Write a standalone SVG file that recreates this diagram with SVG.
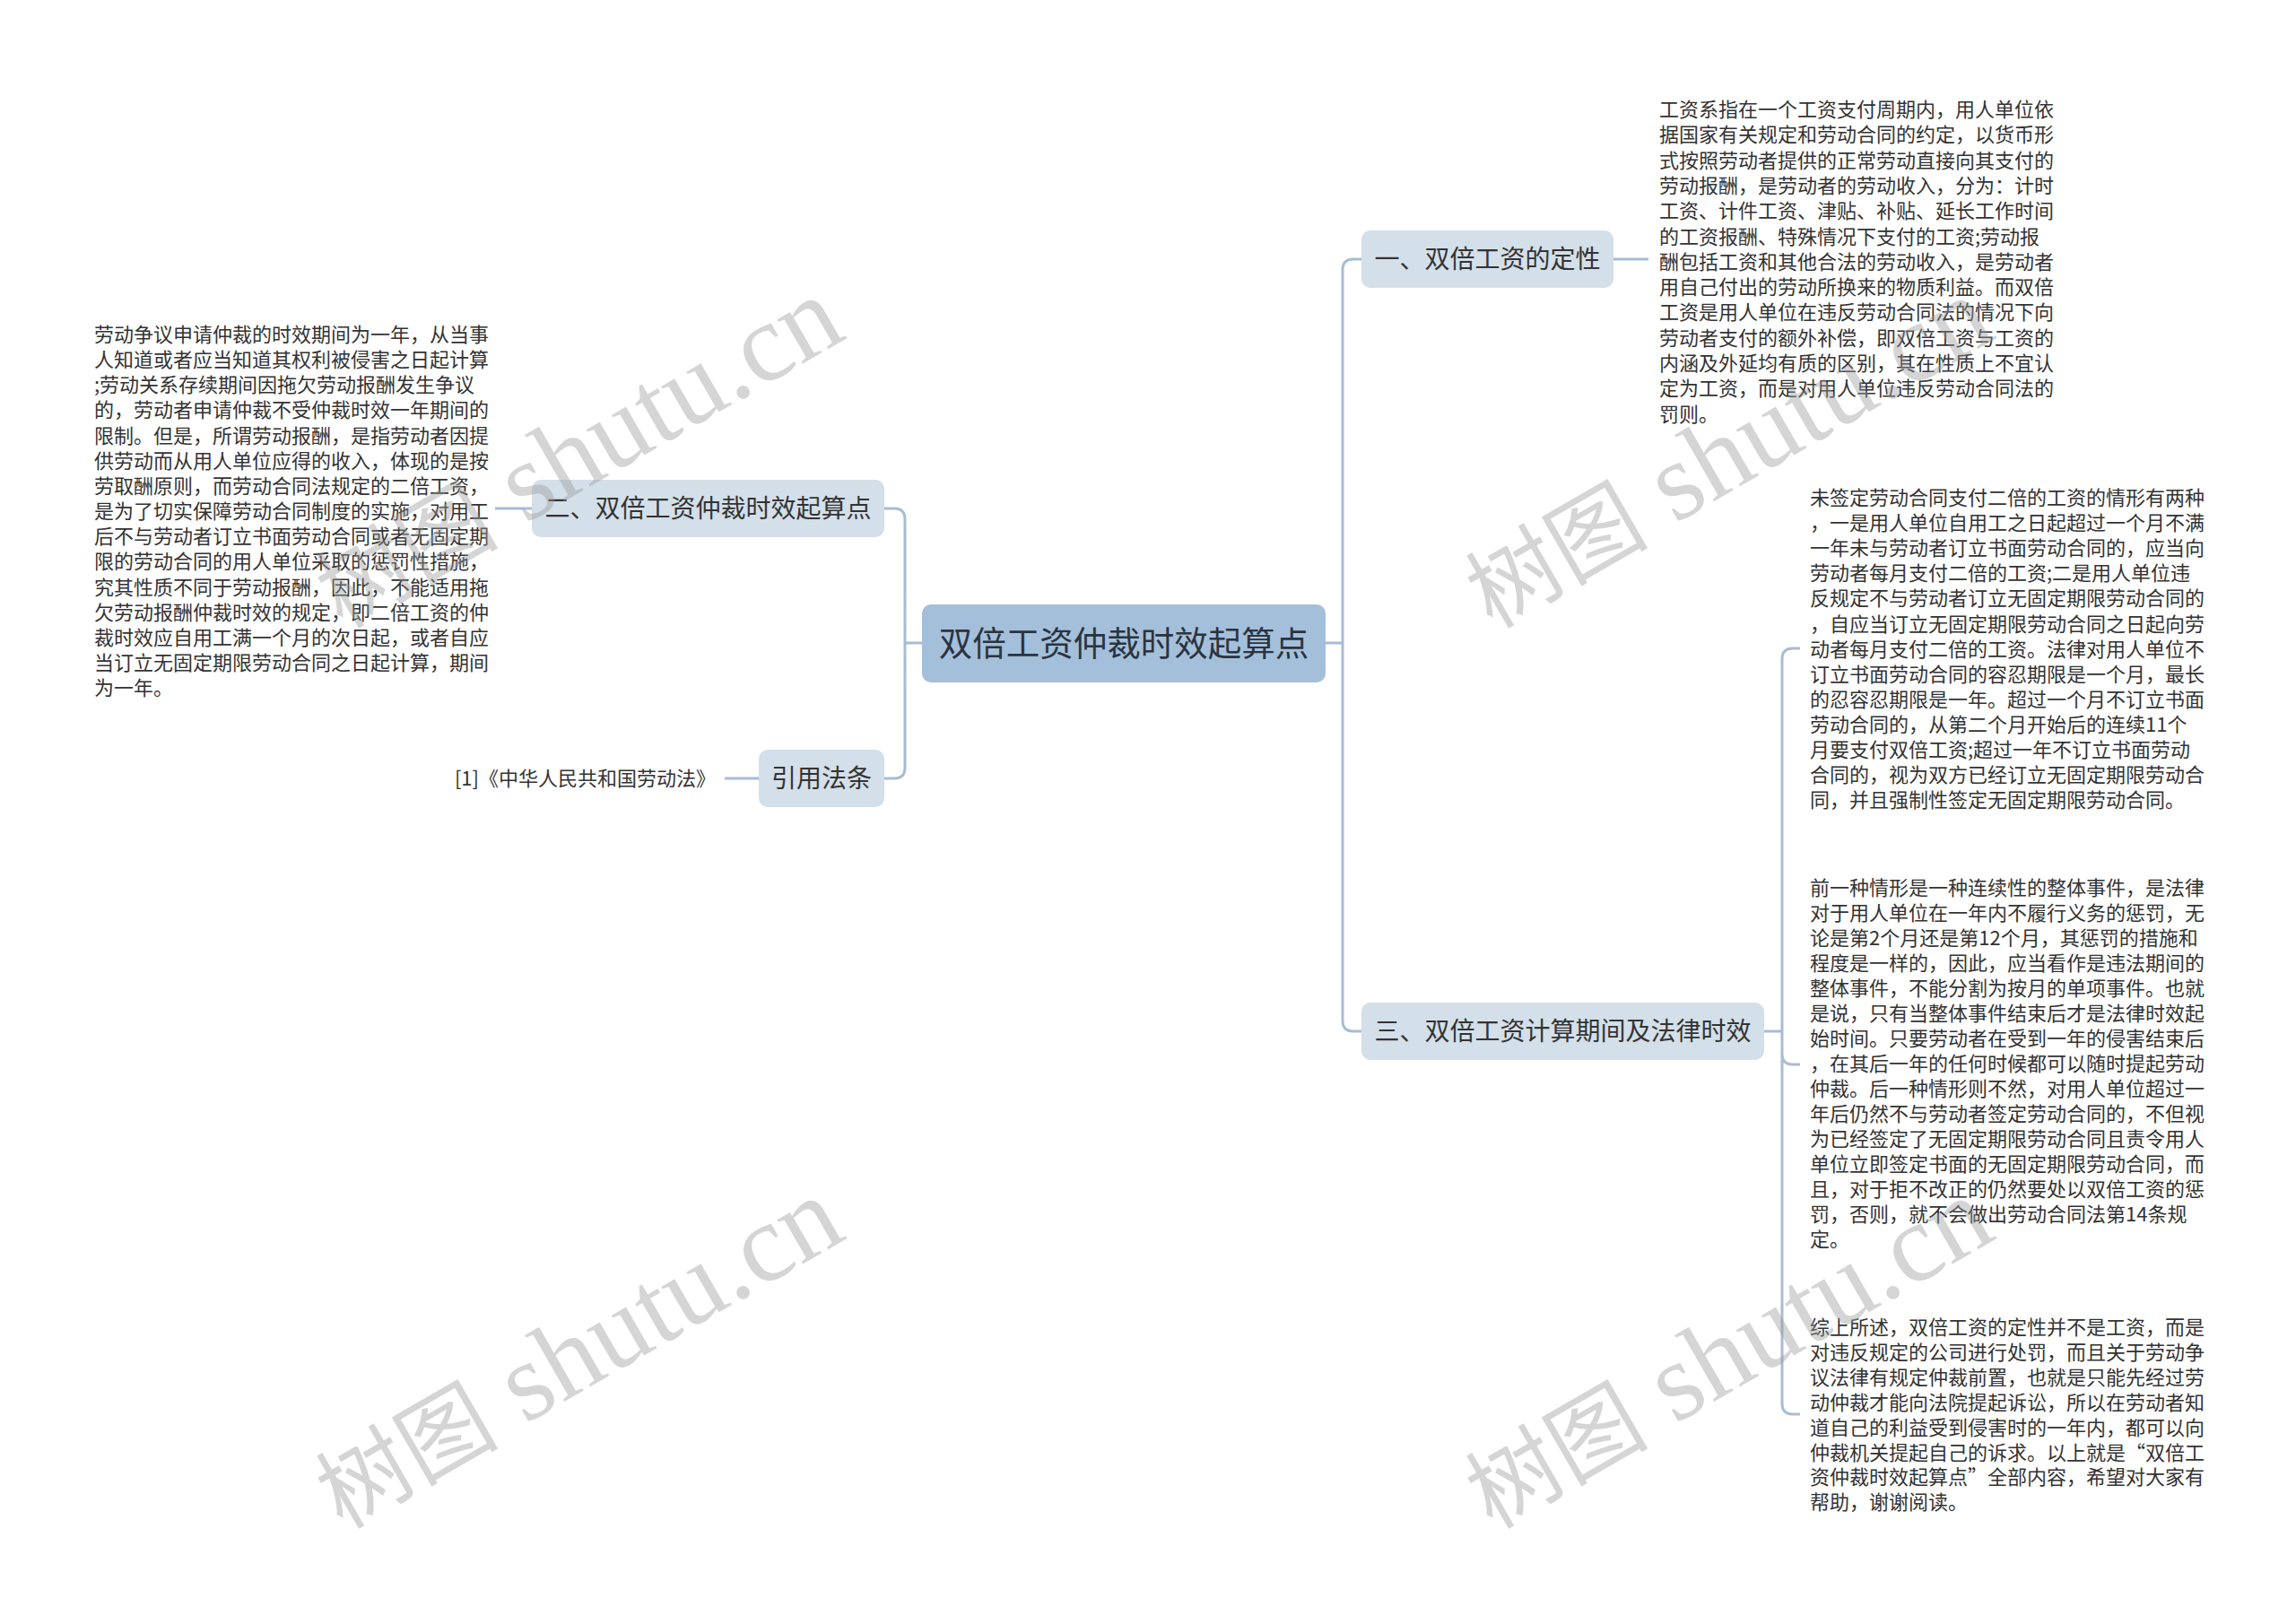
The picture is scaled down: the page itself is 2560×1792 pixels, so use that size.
<svg xmlns="http://www.w3.org/2000/svg" width="2560" height="1792" viewBox="0 0 2560 1792">
<style>
.t{font-family:"Noto Sans CJK SC","Microsoft YaHei",sans-serif;font-size:22px;fill:#333}
.n{font-family:"Noto Sans CJK SC","Microsoft YaHei",sans-serif;font-size:28px;fill:#333;text-anchor:middle}
.c{font-family:"Noto Sans CJK SC","Microsoft YaHei",sans-serif;font-size:37.5px;fill:#2a3440;text-anchor:middle}
.b1{fill:#d3dfe9}
.b0{fill:#a4bfda}
.ln{fill:none;stroke:#a7bdd3;stroke-width:3}
.wm{font-family:"Liberation Serif","Noto Sans CJK SC",serif;font-size:124px;fill:#999;opacity:0.4;text-anchor:middle}
.wc{font-size:102px}
</style>
<rect width="2560" height="1792" fill="#fff"/>
<g id="connectors">
<path class="ln" d="M1028,717 H1009 M1009,717 V579 Q1009,567 997,567 H986 M1009,717 V856 Q1009,868 997,868 H986"/>
<path class="ln" d="M1478,717 H1497 M1497,717 V301 Q1497,289 1509,289 H1518 M1497,717 V1138 Q1497,1150 1509,1150 H1518"/>
<path class="ln" d="M1799,289 H1838"/>
<path class="ln" d="M593,567 H552"/>
<path class="ln" d="M846,868 H808"/>
<path class="ln" d="M1967,1150 H1987 M1987,1150 V735 Q1987,723 1999,723 H2007 M1987,1150 V1175 Q1987,1187 1999,1187 H2007 M1987,1150 V1565 Q1987,1577 1999,1577 H2007"/>
</g>
<g id="root">
<rect class="b0" x="1028" y="674" width="450" height="87" rx="10"/>
<text class="c" x="1253" y="731">双倍工资仲裁时效起算点</text>
</g>
<g id="n1">
<rect class="b1" x="1518" y="257" width="281" height="64" rx="10"/>
<text class="n" x="1658.5" y="299">一、双倍工资的定性</text>
</g>
<g id="n2">
<rect class="b1" x="593" y="535" width="393" height="64" rx="10"/>
<text class="n" x="789.5" y="577">二、双倍工资仲裁时效起算点</text>
</g>
<g id="n3">
<rect class="b1" x="1518" y="1118" width="449" height="64" rx="10"/>
<text class="n" x="1742.5" y="1160">三、双倍工资计算期间及法律时效</text>
</g>
<g id="n4">
<rect class="b1" x="846" y="836" width="140" height="64" rx="10"/>
<text class="n" x="916" y="878">引用法条</text>
</g>
<g id="t1">
<text class="t" x="1850" y="130"><tspan x="1850">工资系指在一个工资支付周期内，用人单位依</tspan><tspan x="1850" dy="28.3">据国家有关规定和劳动合同的约定，以货币形</tspan><tspan x="1850" dy="28.3">式按照劳动者提供的正常劳动直接向其支付的</tspan><tspan x="1850" dy="28.3">劳动报酬，是劳动者的劳动收入，分为：计时</tspan><tspan x="1850" dy="28.3">工资、计件工资、津贴、补贴、延长工作时间</tspan><tspan x="1850" dy="28.3">的工资报酬、特殊情况下支付的工资;劳动报</tspan><tspan x="1850" dy="28.3">酬包括工资和其他合法的劳动收入，是劳动者</tspan><tspan x="1850" dy="28.3">用自己付出的劳动所换来的物质利益。而双倍</tspan><tspan x="1850" dy="28.3">工资是用人单位在违反劳动合同法的情况下向</tspan><tspan x="1850" dy="28.3">劳动者支付的额外补偿，即双倍工资与工资的</tspan><tspan x="1850" dy="28.3">内涵及外延均有质的区别，其在性质上不宜认</tspan><tspan x="1850" dy="28.3">定为工资，而是对用人单位违反劳动合同法的</tspan><tspan x="1850" dy="28.3">罚则。</tspan></text>
</g>
<g id="t2">
<text class="t" x="105" y="381"><tspan x="105">劳动争议申请仲裁的时效期间为一年，从当事</tspan><tspan x="105" dy="28.15">人知道或者应当知道其权利被侵害之日起计算</tspan><tspan x="105" dy="28.15">;劳动关系存续期间因拖欠劳动报酬发生争议</tspan><tspan x="105" dy="28.15">的，劳动者申请仲裁不受仲裁时效一年期间的</tspan><tspan x="105" dy="28.15">限制。但是，所谓劳动报酬，是指劳动者因提</tspan><tspan x="105" dy="28.15">供劳动而从用人单位应得的收入，体现的是按</tspan><tspan x="105" dy="28.15">劳取酬原则，而劳动合同法规定的二倍工资，</tspan><tspan x="105" dy="28.15">是为了切实保障劳动合同制度的实施，对用工</tspan><tspan x="105" dy="28.15">后不与劳动者订立书面劳动合同或者无固定期</tspan><tspan x="105" dy="28.15">限的劳动合同的用人单位采取的惩罚性措施，</tspan><tspan x="105" dy="28.15">究其性质不同于劳动报酬，因此，不能适用拖</tspan><tspan x="105" dy="28.15">欠劳动报酬仲裁时效的规定，即二倍工资的仲</tspan><tspan x="105" dy="28.15">裁时效应自用工满一个月的次日起，或者自应</tspan><tspan x="105" dy="28.15">当订立无固定期限劳动合同之日起计算，期间</tspan><tspan x="105" dy="28.15">为一年。</tspan></text>
</g>
<g id="t3">
<text class="t" x="798" y="876" text-anchor="end">[1]《中华人民共和国劳动法》</text>
</g>
<g id="t4">
<text class="t" x="2018" y="563"><tspan x="2018">未签定劳动合同支付二倍的工资的情形有两种</tspan><tspan x="2018" dy="28.1">，一是用人单位自用工之日起超过一个月不满</tspan><tspan x="2018" dy="28.1">一年未与劳动者订立书面劳动合同的，应当向</tspan><tspan x="2018" dy="28.1">劳动者每月支付二倍的工资;二是用人单位违</tspan><tspan x="2018" dy="28.1">反规定不与劳动者订立无固定期限劳动合同的</tspan><tspan x="2018" dy="28.1">，自应当订立无固定期限劳动合同之日起向劳</tspan><tspan x="2018" dy="28.1">动者每月支付二倍的工资。法律对用人单位不</tspan><tspan x="2018" dy="28.1">订立书面劳动合同的容忍期限是一个月，最长</tspan><tspan x="2018" dy="28.1">的忍容忍期限是一年。超过一个月不订立书面</tspan><tspan x="2018" dy="28.1">劳动合同的，从第二个月开始后的连续11个</tspan><tspan x="2018" dy="28.1">月要支付双倍工资;超过一年不订立书面劳动</tspan><tspan x="2018" dy="28.1">合同的，视为双方已经订立无固定期限劳动合</tspan><tspan x="2018" dy="28.1">同，并且强制性签定无固定期限劳动合同。</tspan></text>
</g>
<g id="t5">
<text class="t" x="2018" y="998"><tspan x="2018">前一种情形是一种连续性的整体事件，是法律</tspan><tspan x="2018" dy="28">对于用人单位在一年内不履行义务的惩罚，无</tspan><tspan x="2018" dy="28">论是第2个月还是第12个月，其惩罚的措施和</tspan><tspan x="2018" dy="28">程度是一样的，因此，应当看作是违法期间的</tspan><tspan x="2018" dy="28">整体事件，不能分割为按月的单项事件。也就</tspan><tspan x="2018" dy="28">是说，只有当整体事件结束后才是法律时效起</tspan><tspan x="2018" dy="28">始时间。只要劳动者在受到一年的侵害结束后</tspan><tspan x="2018" dy="28">，在其后一年的任何时候都可以随时提起劳动</tspan><tspan x="2018" dy="28">仲裁。后一种情形则不然，对用人单位超过一</tspan><tspan x="2018" dy="28">年后仍然不与劳动者签定劳动合同的，不但视</tspan><tspan x="2018" dy="28">为已经签定了无固定期限劳动合同且责令用人</tspan><tspan x="2018" dy="28">单位立即签定书面的无固定期限劳动合同，而</tspan><tspan x="2018" dy="28">且，对于拒不改正的仍然要处以双倍工资的惩</tspan><tspan x="2018" dy="28">罚，否则，就不会做出劳动合同法第14条规</tspan><tspan x="2018" dy="28">定。</tspan></text>
</g>
<g id="t6">
<text class="t" x="2018" y="1488"><tspan x="2018">综上所述，双倍工资的定性并不是工资，而是</tspan><tspan x="2018" dy="27.9">对违反规定的公司进行处罚，而且关于劳动争</tspan><tspan x="2018" dy="27.9">议法律有规定仲裁前置，也就是只能先经过劳</tspan><tspan x="2018" dy="27.9">动仲裁才能向法院提起诉讼，所以在劳动者知</tspan><tspan x="2018" dy="27.9">道自己的利益受到侵害时的一年内，都可以向</tspan><tspan x="2018" dy="27.9">仲裁机关提起自己的诉求。以上就是“双倍工</tspan><tspan x="2018" dy="27.9">资仲裁时效起算点”全部内容，希望对大家有</tspan><tspan x="2018" dy="27.9">帮助，谢谢阅读。</tspan></text>
</g>
<g id="watermarks">
<text class="wm" transform="translate(664,539) rotate(-30)"><tspan class="wc">树图</tspan> shutu.cn</text>
<text class="wm" transform="translate(664,1543) rotate(-30)"><tspan class="wc">树图</tspan> shutu.cn</text>
<text class="wm" transform="translate(1946,539) rotate(-30)"><tspan class="wc">树图</tspan> shutu.cn</text>
<text class="wm" transform="translate(1946,1543) rotate(-30)"><tspan class="wc">树图</tspan> shutu.cn</text>
</g>
</svg>
